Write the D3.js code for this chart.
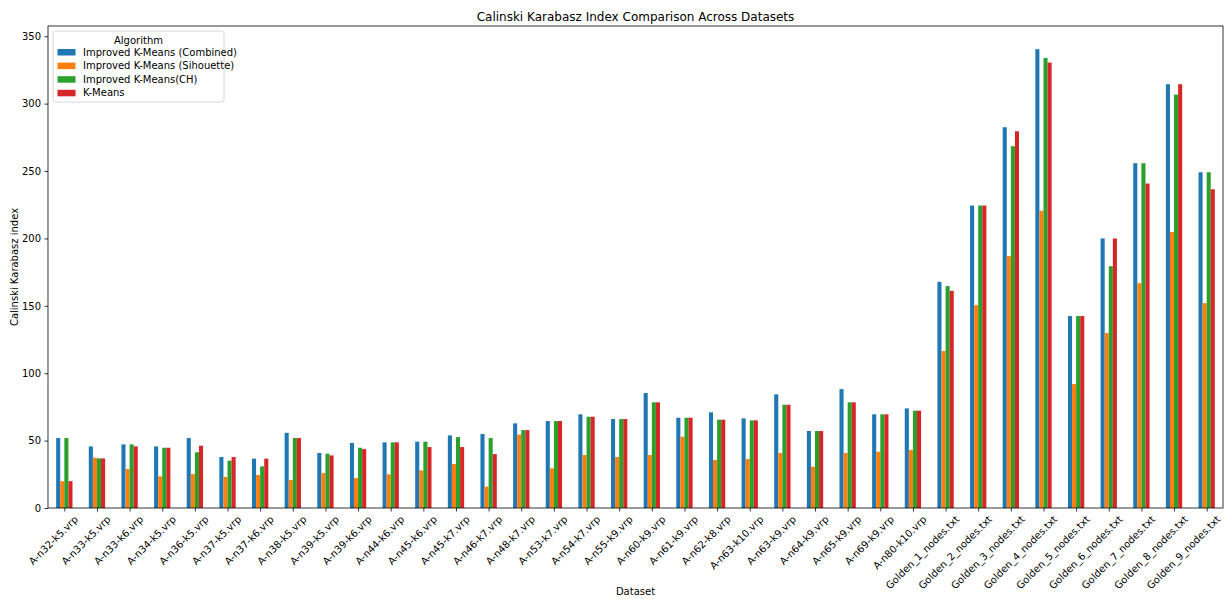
<!DOCTYPE html>
<html>
<head>
<meta charset="utf-8">
<script src="https://cdn.jsdelivr.net/npm/d3@7/dist/d3.min.js"></script>
<style>
  html, body { margin: 0; padding: 0; background: #fff; }
  svg { display: block; font-family: "DejaVu Sans", sans-serif; }
</style>
</head>
<body>
<svg id="chart" width="1225" height="599"></svg>
<script>
// Datasets on the x axis
const datasets = [
  "A-n32-k5.vrp", "A-n33-k5.vrp", "A-n33-k6.vrp", "A-n34-k5.vrp", "A-n36-k5.vrp",
  "A-n37-k5.vrp", "A-n37-k6.vrp", "A-n38-k5.vrp", "A-n39-k5.vrp", "A-n39-k6.vrp",
  "A-n44-k6.vrp", "A-n45-k6.vrp", "A-n45-k7.vrp", "A-n46-k7.vrp", "A-n48-k7.vrp",
  "A-n53-k7.vrp", "A-n54-k7.vrp", "A-n55-k9.vrp", "A-n60-k9.vrp", "A-n61-k9.vrp",
  "A-n62-k8.vrp", "A-n63-k10.vrp", "A-n63-k9.vrp", "A-n64-k9.vrp", "A-n65-k9.vrp",
  "A-n69-k9.vrp", "A-n80-k10.vrp",
  "Golden_1_nodes.txt", "Golden_2_nodes.txt", "Golden_3_nodes.txt", "Golden_4_nodes.txt",
  "Golden_5_nodes.txt", "Golden_6_nodes.txt", "Golden_7_nodes.txt", "Golden_8_nodes.txt",
  "Golden_9_nodes.txt"
];

const algorithms = [
  "Improved K-Means (Combined)",
  "Improved K-Means (Sihouette)",
  "Improved K-Means(CH)",
  "K-Means"
];

// Calinski-Harabasz scores per algorithm, one entry per dataset
const combined = [
  51.9, 45.7, 47.2, 45.7, 51.9, 37.8, 36.6, 55.8, 40.8, 48.2,
  48.7, 49.2, 53.9, 54.9, 62.8, 64.5, 69.5, 66.0, 85.3, 67.0,
  71.0, 66.5, 84.3, 57.1, 88.2, 69.5, 73.9,
  167.8, 224.4, 282.5, 340.4, 142.4, 200.0, 255.8, 314.4, 249.1
];
const silhouette = [
  19.9, 37.3, 28.9, 23.5, 25.2, 23.0, 24.5, 20.8, 25.9, 22.2,
  25.0, 27.9, 32.6, 15.8, 54.4, 29.4, 39.3, 37.8, 39.3, 52.9,
  35.6, 36.3, 40.8, 30.6, 40.8, 41.8, 43.0,
  116.4, 150.5, 186.9, 220.5, 91.9, 129.8, 166.8, 204.7, 152.0
];
const chOnly = [
  51.9, 36.8, 47.2, 44.7, 41.3, 35.1, 30.9, 51.9, 40.3, 44.7,
  48.7, 49.2, 52.6, 51.9, 57.8, 64.5, 67.7, 66.0, 78.4, 67.0,
  65.5, 65.0, 76.6, 57.1, 78.4, 69.5, 72.2,
  164.6, 224.4, 268.4, 333.9, 142.4, 179.4, 255.8, 306.7, 249.1
];
const kmeans = [
  19.9, 36.8, 45.7, 44.7, 46.2, 37.8, 36.6, 51.9, 39.0, 43.7,
  48.7, 45.2, 45.2, 40.0, 57.8, 64.5, 67.7, 66.0, 78.4, 67.0,
  65.5, 65.0, 76.6, 57.1, 78.4, 69.5, 72.2,
  161.1, 224.4, 279.5, 330.5, 142.4, 200.0, 240.7, 314.4, 236.5
];

const yTicks = [0, 50, 100, 150, 200, 250, 300, 350];

const seriesValues = [combined, silhouette, chOnly, kmeans];
const colors = ["#1f77b4", "#ff7f0e", "#2ca02c", "#d62728"];

const svg = d3.select("#chart");
const margin = { left: 48, right: 2, top: 26, bottom: 91 };
const W = 1225, H = 599;
const plotW = W - margin.left - margin.right;
const plotH = H - margin.top - margin.bottom;

const g = svg.append("g").attr("transform", `translate(${margin.left},${margin.top})`);

// Category positions are integer indices; each group of four bars spans 0.5 units
const x = d3.scaleLinear().domain([-0.5, datasets.length - 0.5]).range([0, plotW]);
const y = d3.scaleLinear().domain([0, 357.6]).range([plotH, 0]);

const barW = 0.125;
const offsets = [-0.1875, -0.0625, 0.0625, 0.1875];

seriesValues.forEach((vals, s) => {
  g.append("g")
    .selectAll("rect")
    .data(vals)
    .join("rect")
    .attr("x", (d, i) => x(i + offsets[s] - barW / 2))
    .attr("width", x(barW) - x(0))
    .attr("y", d => y(d))
    .attr("height", d => y(0) - y(d))
    .attr("fill", colors[s]);
});

// Y axis
const yAxis = d3.axisLeft(y).tickValues(yTicks).tickSize(3.5).tickPadding(3.5);
const yG = g.append("g").call(yAxis);
yG.select(".domain").remove();
yG.selectAll("text").attr("font-size", 10).attr("fill", "#000")
  .attr("font-family", "DejaVu Sans, sans-serif");
yG.selectAll("line").attr("stroke", "#000").attr("stroke-width", 0.8);

// X axis
const xAxis = d3.axisBottom(x)
  .tickValues(d3.range(datasets.length))
  .tickFormat(i => datasets[i])
  .tickSize(3.5).tickPadding(3.5);
const xG = g.append("g").attr("transform", `translate(0,${plotH})`).call(xAxis);
xG.select(".domain").remove();
xG.selectAll("line").attr("stroke", "#000").attr("stroke-width", 0.8);
xG.selectAll("text")
  .attr("font-size", 10).attr("fill", "#000")
  .attr("font-family", "DejaVu Sans, sans-serif")
  .attr("text-anchor", "end")
  .attr("dy", "0.7em")
  .attr("transform", "translate(4,2) rotate(-45)");

// Plot frame
g.append("rect")
  .attr("x", 0).attr("y", 0).attr("width", plotW).attr("height", plotH)
  .attr("fill", "none").attr("stroke", "#000").attr("stroke-width", 0.8);

// Title and axis labels
svg.append("text")
  .attr("x", margin.left + plotW / 2).attr("y", 21)
  .attr("text-anchor", "middle").attr("font-size", 12)
  .text("Calinski Karabasz Index Comparison Across Datasets");

svg.append("text")
  .attr("x", margin.left + plotW / 2).attr("y", 595)
  .attr("text-anchor", "middle").attr("font-size", 10)
  .text("Dataset");

svg.append("text")
  .attr("transform", `translate(18,${margin.top + plotH / 2}) rotate(-90)`)
  .attr("text-anchor", "middle").attr("font-size", 10)
  .text("Calinski Karabasz index");

// Legend
const lg = g.append("g").attr("transform", "translate(5,5)");
lg.append("rect")
  .attr("x", 0).attr("y", 0).attr("width", 171).attr("height", 71)
  .attr("rx", 2.5).attr("fill", "#fff").attr("fill-opacity", 0.8)
  .attr("stroke", "#ccc").attr("stroke-width", 0.8);
lg.append("text")
  .attr("x", 85.5).attr("y", 12.5).attr("text-anchor", "middle")
  .attr("font-size", 10).text("Algorithm");
algorithms.forEach((name, i) => {
  const yy = 21 + i * 13.6;
  lg.append("rect")
    .attr("x", 4.5).attr("y", yy - 3).attr("width", 18).attr("height", 6.5)
    .attr("fill", colors[i]);
  lg.append("text")
    .attr("x", 30).attr("y", yy + 3.6).attr("font-size", 10)
    .text(name);
});
</script>
</body>
</html>
